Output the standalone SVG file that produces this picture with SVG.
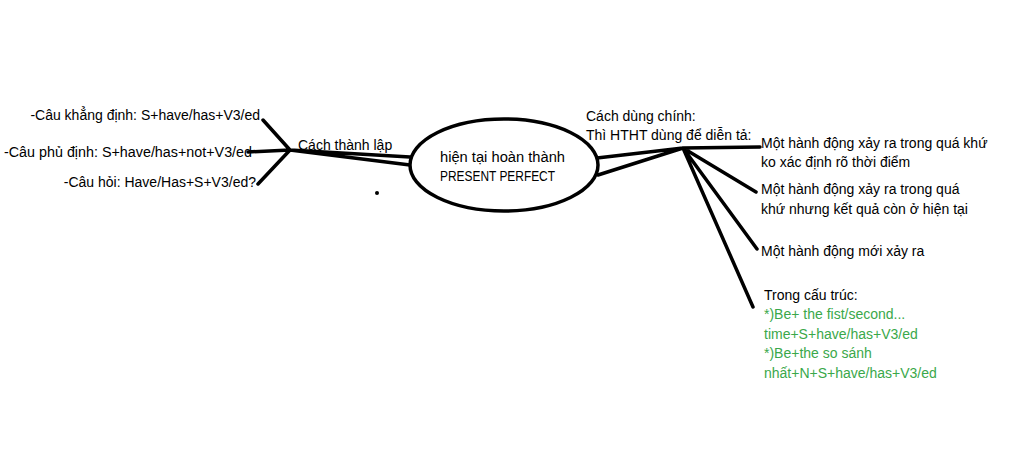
<svg xmlns="http://www.w3.org/2000/svg" width="1024" height="460" viewBox="0 0 1024 460">
<style>
text{font-family:"Liberation Sans","Noto Sans",sans-serif;font-size:14px;fill:#000}
.g{fill:#3aa84a}
.ln{stroke:#000;stroke-width:3.5;stroke-linecap:round;fill:none}
</style>
<rect width="1024" height="460" fill="#fff"/>
<g id="connectors">
<path class="ln" d="M263,120 L290,150 M248,152 L290,150 M258,184 L290,150 M290,150 L410,157 M290,150 L410,165"/>
<path class="ln" d="M597,158 L683,148 M598,175 L683,148 M683,148 L760,147 M683,148 L756,192 M683,148 L757,249 M683,148 L753,307"/>
</g>
<g id="center">
<ellipse cx="504" cy="165" rx="94" ry="46" fill="#fff" stroke="#000" stroke-width="3.5"/>
<text x="440" y="162" textLength="125" lengthAdjust="spacingAndGlyphs">hiện tại hoàn thành</text>
<text x="440" y="181" textLength="115" lengthAdjust="spacingAndGlyphs">PRESENT PERFECT</text>
</g>
<g id="cach-thanh-lap"><text x="298" y="150">Cách thành lập</text></g>
<g id="khang-dinh"><text x="260" y="120" text-anchor="end">-Câu khẳng định: S+have/has+V3/ed</text></g>
<g id="phu-dinh"><text x="4" y="157" textLength="248" lengthAdjust="spacingAndGlyphs">-Câu phủ định: S+have/has+not+V3/ed</text></g>
<g id="cau-hoi"><text x="256" y="187" text-anchor="end">-Câu hỏi: Have/Has+S+V3/ed?</text></g>
<g id="dot"><circle cx="377" cy="193" r="2" fill="#000"/></g>
<g id="cach-dung"><text x="586" y="121">Cách dùng chính:</text><text x="586" y="140">Thì HTHT dùng để diễn tả:</text></g>
<g id="use1"><text x="761" y="148">Một hành động xảy ra trong quá khứ</text><text x="761" y="167">ko xác định rõ thời điểm</text></g>
<g id="use2"><text x="761" y="194">Một hành động xảy ra trong quá</text><text x="761" y="214">khứ nhưng kết quả còn ở hiện tại</text></g>
<g id="use3"><text x="761" y="256">Một hành động mới xảy ra</text></g>
<g id="use4"><text x="764" y="300">Trong cấu trúc:</text>
<text class="g" x="764" y="319">*)Be+ the fist/second...</text>
<text class="g" x="764" y="339">time+S+have/has+V3/ed</text>
<text class="g" x="764" y="358">*)Be+the so sánh</text>
<text class="g" x="764" y="378">nhất+N+S+have/has+V3/ed</text></g>
</svg>
